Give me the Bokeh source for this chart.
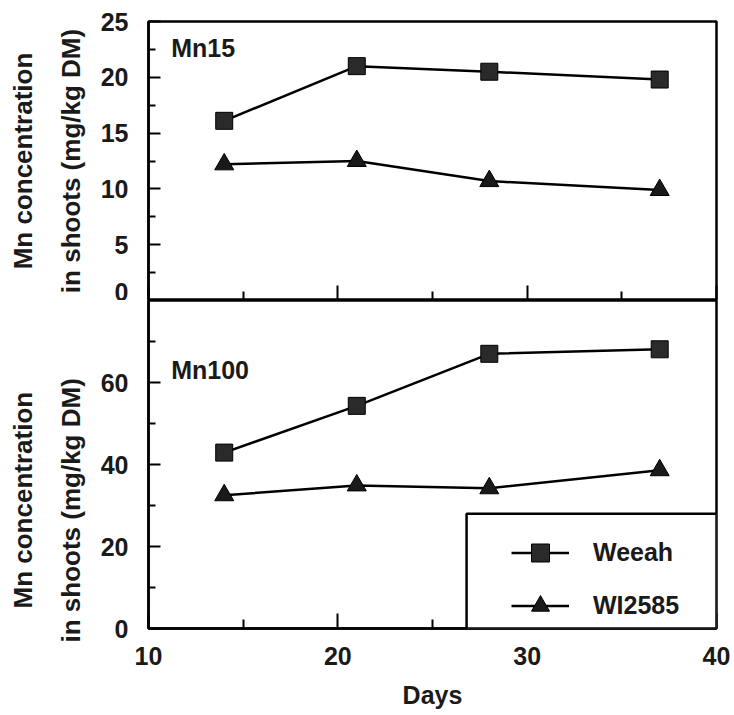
from bokeh.plotting import figure
from bokeh.layouts import column
from bokeh.models import Range1d, Title, Label, Legend, LegendItem, FixedTicker, BoxAnnotation
from bokeh.embed import file_html
from bokeh.resources import INLINE

days = [14, 21, 28, 37]
mn15_weeah = [16.1, 21.0, 20.5, 19.8]
mn15_wi2585 = [12.2, 12.5, 10.7, 9.9]
mn100_weeah = [42.9, 54.3, 67.0, 68.1]
mn100_wi2585 = [32.5, 34.9, 34.2, 38.6]

x_ticks = [10, 20, 30, 40]
x_minor = [15, 25, 35]
top_y_ticks = [0, 5, 10, 15, 20, 25]
top_y_minor = [2.5, 7.5, 12.5, 17.5, 22.5]
bot_y_ticks = [0, 20, 40, 60]
bot_y_minor = [10, 30, 50, 70]

FONT = "Liberation Sans"
FS = "25px"
INK = "#1a1a1a"

x_range = Range1d(10, 40)


def style(p, yt, ym):
    p.outline_line_color = "black"
    p.outline_line_width = 2.5
    p.xgrid.visible = False
    p.ygrid.visible = False
    p.xaxis.ticker = FixedTicker(ticks=x_ticks, minor_ticks=x_minor)
    p.yaxis.ticker = FixedTicker(ticks=yt, minor_ticks=ym)
    for ax in (p.xaxis[0], p.yaxis[0]):
        ax.axis_line_color = "black"
        ax.axis_line_width = 2.5
        ax.major_tick_out = 0
        ax.minor_tick_out = 0
        ax.major_tick_line_color = "black"
        ax.minor_tick_line_color = "black"
        ax.major_tick_line_width = 2
        ax.minor_tick_line_width = 2
        ax.major_label_text_font = FONT
        ax.major_label_text_font_style = "bold"
        ax.major_label_text_font_size = FS
        ax.major_label_text_color = INK
    p.xaxis.major_tick_in = 15
    p.xaxis.minor_tick_in = 9
    p.yaxis.major_tick_in = 12
    p.yaxis.minor_tick_in = 7
    p.yaxis.major_label_standoff = 20


def add_series(p, w, t):
    l1 = p.line(days, w, line_color="black", line_width=2.5)
    s1 = p.scatter(days, w, marker="square", size=17, fill_color="#2a2a2a", line_color="black", line_width=1)
    l2 = p.line(days, t, line_color="black", line_width=2.5)
    s2 = p.scatter(days, t, marker="triangle", size=19, fill_color=INK, line_color="black", line_width=1)
    return (l1, s1), (l2, s2)


def ytitle(text, align, offset, standoff):
    return Title(text=text, align=align, offset=offset, text_font=FONT, text_font_style="bold",
                 text_font_size="26px", text_color=INK, standoff=standoff)


# ---------- top panel ----------
p1 = figure(width=734, height=300, x_range=x_range, y_range=Range1d(0, 25),
            output_backend="svg", toolbar_location=None,
            min_border_left=148, min_border_right=18, min_border_top=21, min_border_bottom=0)
style(p1, top_y_ticks, top_y_minor)
p1.xaxis.major_label_text_font_size = "0px"
p1.xaxis.major_label_text_color = None
p1.xaxis.major_label_standoff = 0
add_series(p1, mn15_weeah, mn15_wi2585)
p1.add_layout(Label(x=11.2, y=22.6, text="Mn15", text_font=FONT, text_font_style="bold",
                    text_font_size=FS, text_baseline="middle", text_color=INK))
p1.add_layout(ytitle("in shoots (mg/kg DM)", "center", 0, 24), "left")
p1.add_layout(ytitle("Mn concentration", "center", 0, 8), "left")

# ---------- bottom panel ----------
p2 = figure(width=734, height=415, x_range=x_range, y_range=Range1d(0, 80),
            output_backend="svg", toolbar_location=None,
            min_border_left=148, min_border_right=18, min_border_top=0, min_border_bottom=87)
style(p2, bot_y_ticks, bot_y_minor)
p2.xaxis.axis_label = "Days"
p2.xaxis.axis_label_text_font = FONT
p2.xaxis.axis_label_text_font_style = "bold"
p2.xaxis.axis_label_text_font_size = FS
p2.xaxis.axis_label_text_color = INK
p2.xaxis.major_label_standoff = 18
p2.xaxis.axis_label_standoff = 13
(wl, ws), (tl, ts) = add_series(p2, mn100_weeah, mn100_wi2585)
p2.add_layout(Label(x=11.2, y=63, text="Mn100", text_font=FONT, text_font_style="bold",
                    text_font_size=FS, text_baseline="middle", text_color=INK))
p2.add_layout(ytitle("in shoots (mg/kg DM)", "left", -14, 24), "left")
p2.add_layout(ytitle("Mn concentration", "left", 20, 8), "left")

p2.add_layout(BoxAnnotation(left=26.8, right=40, bottom=0, top=28.0, fill_color="white",
                            fill_alpha=1, line_color="black", line_alpha=1, line_width=2.5,
                            level="overlay"))

legend = Legend(items=[LegendItem(label="Weeah", renderers=[wl, ws]),
                       LegendItem(label="WI2585", renderers=[tl, ts])],
                location="bottom_right", margin=0, padding=9, spacing=8,
                glyph_width=58, glyph_height=45, label_height=45, label_width=123,
                label_standoff=24, border_line_color=None, background_fill_alpha=0,
                label_text_font=FONT, label_text_font_style="bold", label_text_font_size=FS,
                label_text_color=INK)
p2.add_layout(legend)

layout = column(p1, p2, spacing=0)
open("out.html", "w").write(file_html(layout, INLINE))
